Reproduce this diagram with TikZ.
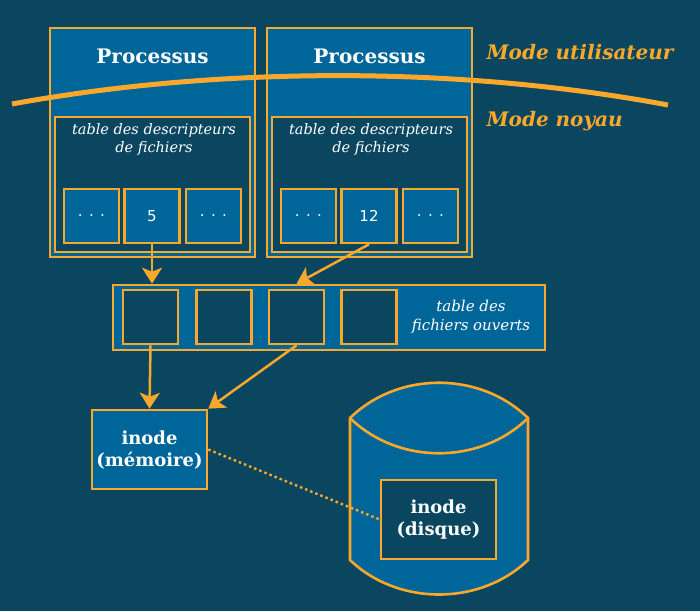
\documentclass[tikz,border=0pt]{standalone}
\usepackage{fontspec}
\setmainfont{DejaVu Serif}
\newfontfamily\dvsans{DejaVu Sans}
\usetikzlibrary{arrows.meta}
\definecolor{bg}{HTML}{0A4660}
\definecolor{fillb}{HTML}{006699}
\definecolor{org}{HTML}{F9A82B}
\begin{document}
\begin{tikzpicture}[x=1pt,y=-1pt,
  box/.style={draw=org, line width=2.6pt, fill=fillb, inner sep=0pt},
  darkbox/.style={draw=org, line width=2.6pt, fill=bg, inner sep=0pt},
  cell/.style={box, minimum width=55pt, minimum height=54pt, text=white, font=\dvsans\fontsize{15}{18}\selectfont},
  ocell/.style={darkbox, minimum width=55pt, minimum height=54pt},
  title/.style={text=white, font=\bfseries\fontsize{20}{24}\selectfont},
  ital/.style={text=white, align=center, font=\itshape\fontsize{14.5}{18}\selectfont},
  ital2/.style={text=white, align=center, font=\itshape\fontsize{15}{19}\selectfont},
  bold/.style={text=white, align=center, font=\bfseries\fontsize{18}{22}\selectfont},
  mode/.style={text=org, anchor=west, font=\bfseries\itshape\fontsize{20}{24}\selectfont},
  arr/.style={draw=org, line width=2.5pt, -{Stealth[length=16pt,width=20pt,inset=4pt]}}
]
\fill[bg] (0,0) rectangle (700,611);
\useasboundingbox (0,0) rectangle (700,611);

% processes
\node[box, minimum width=205pt, minimum height=229pt] (p1) at (152.5,142.5) {};
\node[box, minimum width=205pt, minimum height=229pt] (p2) at (369.5,142.5) {};
\node[title] (p1t) at (152.5,56) {Processus};
\node[title] (p2t) at (369.5,56) {Processus};
\node[darkbox, minimum width=195pt, minimum height=135pt] (t1) at (152.5,184.5) {};
\node[darkbox, minimum width=195pt, minimum height=135pt] (t2) at (369.5,184.5) {};
\node[ital] (t1l) at (154,139) {table des descripteurs\\de fichiers};
\node[ital] (t2l) at (371,139) {table des descripteurs\\de fichiers};
\node[cell] (c11) at (91.5,216) {. . .};
\node[cell] (c12) at (152,216) {5};
\node[cell] (c13) at (213.5,216) {. . .};
\node[cell] (c21) at (308.5,216) {. . .};
\node[cell] (c22) at (369,216) {12};
\node[cell] (c23) at (430.5,216) {. . .};

% mode separator
\coordinate (sepL) at (12,104);
\coordinate (sepR) at (668,105);
\draw[org, line width=5pt] (sepL) .. controls (220,66) and (460,66) .. (sepR);
\node[mode] (mu) at (483,52) {Mode utilisateur};
\node[mode] (mn) at (483,121) {Mode noyau};

% open files table
\node[box, minimum width=432pt, minimum height=65pt] (oft) at (329,317.5) {};
\node[ocell] (o1) at (150.5,317) {};
\node[ocell] (o2) at (224,317) {};
\node[ocell] (o3) at (296.5,317) {};
\node[ocell] (o4) at (369,317) {};
\node[ital2] (oftl) at (471,317) {table des\\fichiers ouverts};

% inode memoire
\node[box, minimum width=115pt, minimum height=79pt] (im) at (149.5,449.5) {};
\node[bold] (iml) at (149.5,450) {inode\\(mémoire)};

% disk
\draw[org, line width=2.6pt, fill=fillb]
  (350,418) .. controls (398,371) and (480,371) .. (528,418)
  -- (528,560) .. controls (480,606) and (398,606) .. (350,560) -- cycle;
\draw[org, line width=2.6pt] (350,418) .. controls (398,465) and (480,465) .. (528,418);
\node[darkbox, minimum width=115pt, minimum height=79pt] (id) at (438.5,519.5) {};
\node[bold] (idl) at (438.5,520) {inode\\(disque)};

% connectors
\draw[arr] (c12.south) -- (c12.south |- oft.north);
\draw[arr] (c22.south) -- (o3.north |- oft.north);
\draw[arr] (o1.south) -- (im.north);
\draw[arr] (o3.south) -- (im.north east);
\draw[org, line width=2.4pt, dash pattern=on 2.5pt off 3pt] (im.east) -- (id.west);
\end{tikzpicture}
\end{document}
